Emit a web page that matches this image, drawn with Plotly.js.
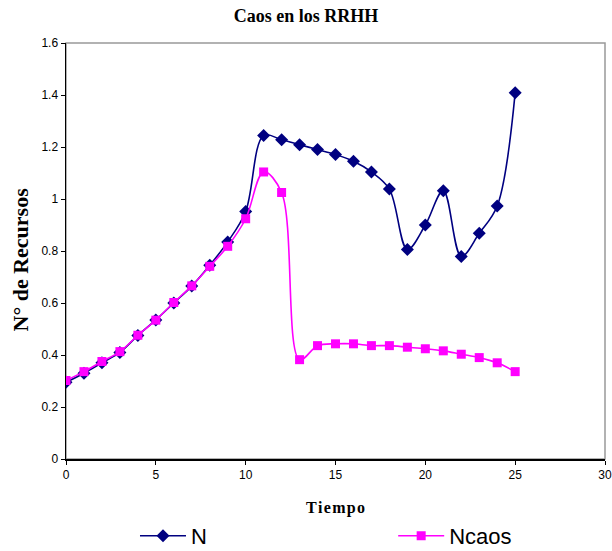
<!DOCTYPE html>
<html>
<head>
<meta charset="utf-8">
<script src="https://cdn.plot.ly/plotly-3.0.1.min.js"></script>
<style>html,body{margin:0;padding:0;background:#fff;}#chart{width:612px;height:551px;}</style>
</head>
<body>
<div id="chart"></div>
<script>
var tiempo = [0,1,2,3,4,5,6,7,8,9,10,11,12,13,14,15,16,17,18,19,20,21,22,23,24,25];
var N = [0.295,0.33,0.37,0.41,0.475,0.535,0.60,0.665,0.745,0.835,0.952,1.244,1.228,1.209,1.190,1.171,1.145,1.104,1.038,0.806,0.900,1.032,0.779,0.868,0.973,1.409];
var Ncaos = [0.302,0.336,0.375,0.413,0.476,0.534,0.602,0.666,0.741,0.818,0.924,1.104,1.025,0.382,0.436,0.443,0.443,0.436,0.436,0.430,0.424,0.416,0.403,0.390,0.370,0.336];
var xTicks = [0,5,10,15,20,25,30];
var yTicks = [0,0.2,0.4,0.6,0.8,1,1.2,1.4,1.6];

var traces = [
  {x: tiempo, y: N, name: 'N', type: 'scatter', mode: 'lines+markers', legend: 'legend',
   line: {color: '#000080', width: 1.6, shape: 'spline', smoothing: 1},
   marker: {symbol: 'diamond', size: 10, color: '#000080'}},
  {x: tiempo, y: Ncaos, name: 'Ncaos', type: 'scatter', mode: 'lines+markers', legend: 'legend2',
   line: {color: '#FF00FF', width: 1.6, shape: 'spline', smoothing: 1},
   marker: {symbol: 'square', size: 9, color: '#FF00FF'}}
];

var hs = '\u200A';
var legFont = {family: 'Liberation Sans, Arial, sans-serif', size: 22, color: '#000'};
var layout = {
  width: 612, height: 551,
  margin: {l: 66, r: 7, t: 43, b: 92, autoexpand: false},
  paper_bgcolor: '#fff', plot_bgcolor: '#fff',
  title: {text: '<b>Caos en los RRHH</b>', font: {family: 'Liberation Serif, Times New Roman, serif', size: 18, color: '#000'},
          x: 0.5, xanchor: 'center', y: 0.971, yanchor: 'middle'},
  xaxis: {range: [0,30], tickvals: xTicks, ticktext: xTicks.map(String), showgrid: false, zeroline: false,
          showline: true, linecolor: '#000', linewidth: 1.5, ticks: 'outside', ticklen: 4, tickcolor: '#000',
          tickfont: {family: 'Liberation Sans, Arial, sans-serif', size: 12, color: '#000'},
          title: {text: '<b>' + 'Tiempo'.split('').join(hs) + '</b>', font: {family: 'Liberation Serif, Times New Roman, serif', size: 16, color: '#000'}, standoff: 21}},
  yaxis: {range: [0,1.6], tickvals: yTicks, ticktext: ['0','0.2','0.4','0.6','0.8','1','1.2','1.4','1.6'], showgrid: false, zeroline: false,
          showline: true, linecolor: '#000', linewidth: 1.5, ticks: 'outside', ticklen: 4, tickcolor: '#000',
          tickfont: {family: 'Liberation Sans, Arial, sans-serif', size: 12, color: '#000'}},
  annotations: [{text: '<b>N° de Recursos</b>', textangle: -90, showarrow: false,
                 xref: 'paper', yref: 'paper', x: -0.0853, y: 0.4796, xanchor: 'center', yanchor: 'middle',
                 font: {family: 'Liberation Serif, Times New Roman, serif', size: 22, color: '#000'}}],
  shapes: [{type: 'rect', xref: 'paper', yref: 'paper', x0: 0, x1: 1, y0: 0, y1: 1,
            line: {color: '#999', width: 1.5}, layer: 'below'}],
  showlegend: true,
  legend: {orientation: 'h', x: 0.128, xanchor: 'left', y: -0.185, yanchor: 'middle',
           font: legFont, itemwidth: 46, bgcolor: 'rgba(0,0,0,0)'},
  legend2: {orientation: 'h', x: 0.607, xanchor: 'left', y: -0.185, yanchor: 'middle',
           font: legFont, itemwidth: 46, bgcolor: 'rgba(0,0,0,0)'}
};

Plotly.newPlot('chart', traces, layout, {displayModeBar: false, staticPlot: true});
</script>
</body>
</html>
